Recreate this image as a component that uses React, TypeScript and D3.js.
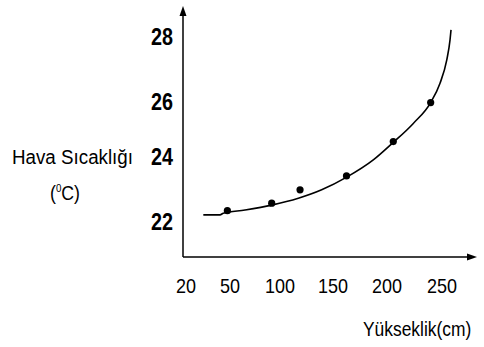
import React from "react";
import * as d3 from "d3";

const xTicks = [20, 50, 100, 150, 200, 250];
const yTicks = [22, 24, 26, 28];

// measured points (cm, °C)
const pointX = [48.2, 91.7, 118.9, 162.5, 205.7, 239.7];
const pointY = [22.34, 22.57, 22.98, 23.41, 24.55, 25.97];

// fitted curve as drawn
const curveX = [31.8, 43.2, 45.4, 65, 91.7, 117.3, 139.3, 162.7, 187.3, 205.7, 223.9, 239.7, 248.2, 254.3, 257.3, 258.2];
const curveY = [22.21, 22.21, 22.26, 22.36, 22.51, 22.72, 22.98, 23.37, 23.9, 24.52, 25.21, 25.97, 26.57, 27.28, 27.9, 28.21];

export default function App() {
  const W = 484, H = 347;
  // the hand-drawn axis is not evenly spaced: piecewise scales through the labels
  const x = d3.scaleLinear().domain(xTicks).range([186, 230, 280, 333, 387, 442]);
  const y = d3.scaleLinear().domain(yTicks).range([221.7, 156.7, 101.7, 36.7]);

  const ax0 = 183, ay0 = 257;
  const line = d3.line<number>()
    .x((d, i) => x(curveX[i]))
    .y((d, i) => y(curveY[i]))
    .curve(d3.curveMonotoneX);

  const font = "'Liberation Sans', Arial, sans-serif";
  return (
    <svg width={W} height={H} style={{ position: "absolute", left: 0, top: 0, background: "#fff" }}>
      <rect width={W} height={H} fill="#fff" />
      {/* axes */}
      <line x1={ax0} y1={ay0} x2={ax0} y2={12} stroke="#000" strokeWidth={1.5} />
      <path d={`M${ax0},6 L${ax0 - 3.5},16 L${ax0 + 3.5},16 Z`} fill="#000" />
      <line x1={ax0} y1={ay0} x2={470} y2={ay0} stroke="#000" strokeWidth={1.5} />
      <path d={`M${477},${ay0} L${467},${ay0 - 3.5} L${467},${ay0 + 3.5} Z`} fill="#000" />

      {/* curve */}
      <path d={line(curveX) || ""} fill="none" stroke="#000" strokeWidth={1.6} />

      {/* points */}
      {pointX.map((v, i) => (
        <circle key={i} cx={x(v)} cy={y(pointY[i])} r={3.6} fill="#000" />
      ))}

      {/* y tick labels */}
      {yTicks.map((t) => (
        <text key={t} x={173} y={y(t)} dy="0.36em" textAnchor="end" fontFamily={font}
          fontWeight="bold" fontSize={23} textLength={22} lengthAdjust="spacingAndGlyphs">{t}</text>
      ))}

      {/* x tick labels */}
      {xTicks.map((t) => (
        <text key={t} x={x(t)} y={293} textAnchor="middle" fontFamily={font}
          fontSize={21} textLength={t < 100 ? 20 : 30} lengthAdjust="spacingAndGlyphs">{t}</text>
      ))}

      {/* axis titles */}
      <text x={12} y={164} fontFamily={font} fontSize={19.5} textLength={121} lengthAdjust="spacingAndGlyphs">Hava Sıcaklığı</text>
      <text x={50} y={200} fontFamily={font} fontSize={20} textLength={30} lengthAdjust="spacingAndGlyphs">
        (<tspan fontSize={11} dy={-8}>0</tspan><tspan dy={8}>C)</tspan>
      </text>
      <text transform="translate(363,336) scale(0.87,1)" fontFamily={font} fontSize={20}>Yükseklik(cm)</text>
    </svg>
  );
}
